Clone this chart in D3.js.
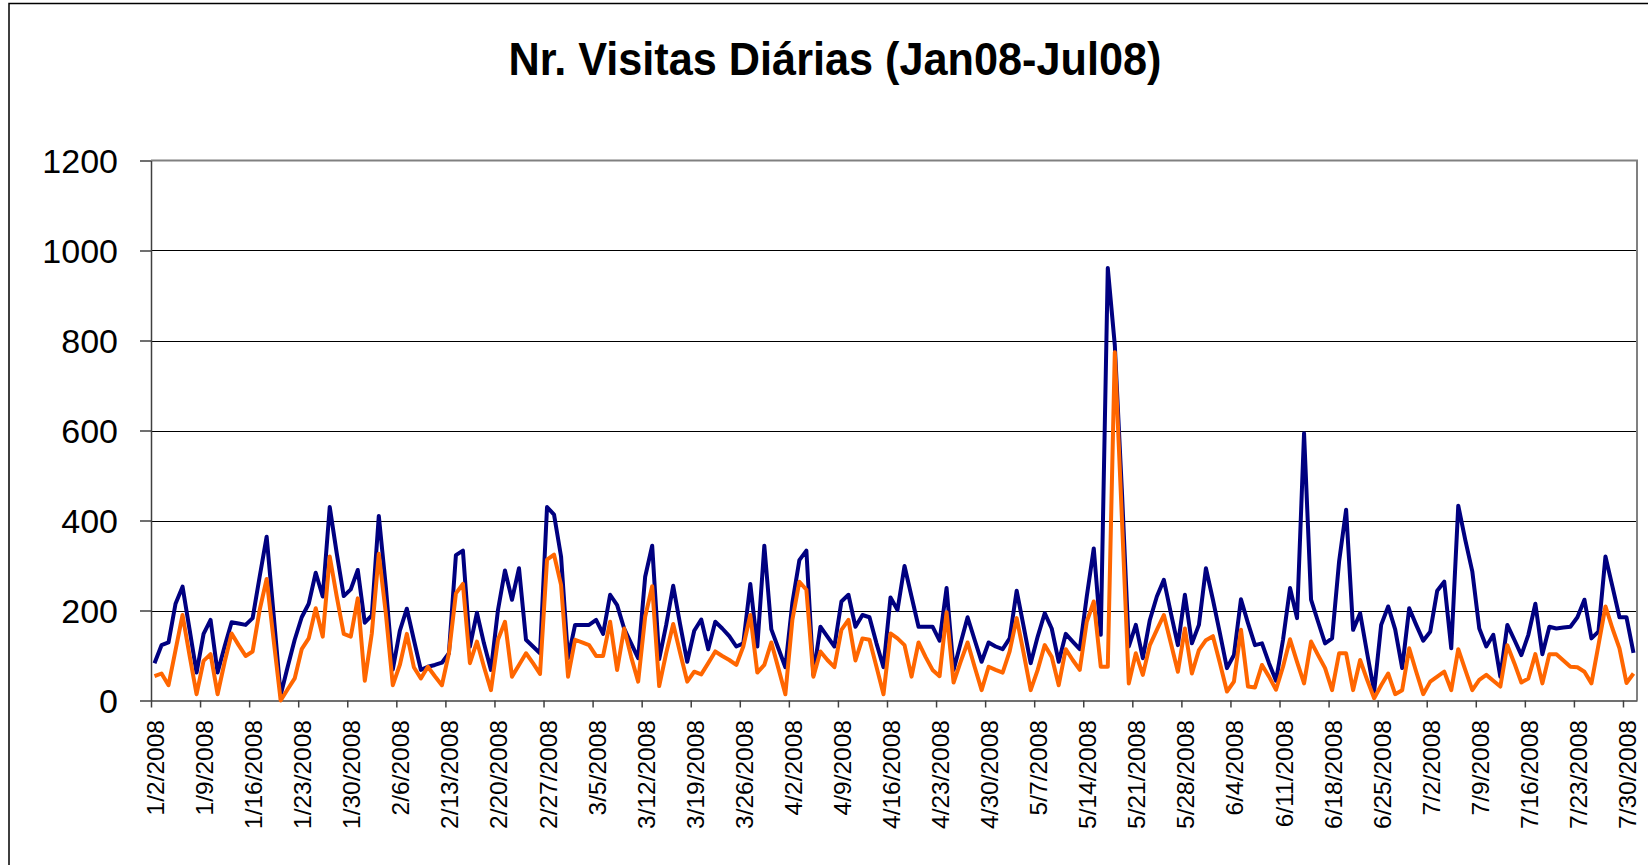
<!DOCTYPE html>
<meta charset="utf-8">
<style>
body { margin: 0; background: #fff; }
svg { display: block; font-family: Arial, "Liberation Sans", sans-serif; }
.grid line { stroke: #000; stroke-width: 1; shape-rendering: crispEdges; }
.axis path, .axis line { stroke: #404040; stroke-width: 1.5; }
.axis text { fill: #000; }
</style>
<svg width="1648" height="865"></svg>
<script src="https://cdn.jsdelivr.net/npm/d3@7"></script>
<script>

// daily visits, Jan 2 2008 .. Jul 31 2008 (one value per day)
var startDay = new Date(2008, 0, 2);
var endDay = new Date(2008, 7, 1);

var visitsTotal = [83,123,129,215,253,158,62,148,179,62,120,174,171,168,183,275,364,190,12,75,
  135,185,215,284,231,430,327,232,247,290,173,189,410,253,69,155,204,135,68,75,
  79,84,105,323,333,120,195,127,68,201,289,224,294,135,120,105,430,413,320,94,
  168,168,168,179,148,235,212,160,127,94,275,344,92,168,255,168,86,155,180,114,
  175,160,143,120,127,259,120,344,158,116,74,217,312,333,57,164,142,120,220,235,
  164,190,185,127,74,229,201,299,231,164,164,164,133,250,68,127,185,135,86,129,
  120,114,138,244,164,83,142,194,160,86,148,131,114,231,338,146,961,790,470,120,
  168,94,179,231,268,194,123,235,127,168,294,224,149,72,101,225,172,123,127,83,
  44,135,250,183,594,224,175,127,138,309,424,157,194,105,20,168,209,158,72,205,
  168,133,153,244,264,116,433,357,287,160,120,146,53,168,135,101,146,215,103,164,
  160,162,164,185,224,138,153,320,253,185,185,106];

var visitsOther = [54,60,34,112,190,100,14,88,103,14,85,149,123,99,109,201,270,134,0,25,
  49,114,138,205,142,320,231,148,142,227,44,149,326,194,34,79,148,74,49,75,
  54,34,105,238,259,83,131,75,23,135,175,53,79,105,83,59,313,324,257,53,
  135,129,123,99,99,175,68,160,97,42,186,254,32,105,170,105,42,64,58,83,
  109,99,90,79,120,190,62,79,129,72,14,179,264,246,53,109,90,74,157,179,
  89,138,135,75,14,149,138,123,53,129,97,68,54,196,40,86,129,75,23,75,
  68,62,109,183,105,23,68,123,97,34,114,90,68,175,220,75,75,774,410,38,
  105,57,123,157,190,127,64,160,60,112,134,143,83,20,42,157,31,29,79,53,
  24,75,136,86,38,131,101,72,23,105,105,23,90,46,5,34,60,14,23,116,
  64,14,42,53,64,23,114,68,23,46,57,44,31,123,83,40,49,103,38,103,
  103,89,75,74,64,38,123,209,160,116,39,60];

var yTicks = [0, 200, 400, 600, 800, 1000, 1200];
var titleText = "Nr. Visitas Diárias (Jan08-Jul08)";

var days = d3.timeDay.range(startDay, endDay);
var fmt = d3.timeFormat("%-m/%-d/%Y");

var svg = d3.select("svg");

// outer chart frame
svg.append("rect")
    .attr("x", 9).attr("y", 3.5)
    .attr("width", 1700).attr("height", 900)
    .attr("fill", "none")
    .attr("stroke", "#000")
    .attr("stroke-width", 1.5);

var plotLeft = 151, plotRight = 1637, plotTop = 160.5, plotBottom = 700.5;

var x = d3.scaleLinear().domain([0, days.length]).range([plotLeft, plotRight]);
var y = d3.scaleLinear().domain([0, 1200]).range([plotBottom, plotTop]);

// title
svg.append("text")
    .attr("x", 835).attr("y", 75)
    .attr("text-anchor", "middle")
    .attr("font-size", "47px")
    .attr("font-weight", "bold")
    .attr("textLength", 653)
    .attr("lengthAdjust", "spacingAndGlyphs")
    .text(titleText);

// horizontal gridlines
svg.append("g")
    .attr("class", "grid")
  .selectAll("line")
  .data(yTicks.slice(1, -1))
  .enter().append("line")
    .attr("x1", plotLeft).attr("x2", plotRight)
    .attr("y1", function(d) { return Math.round(y(d)) + 0.5; })
    .attr("y2", function(d) { return Math.round(y(d)) + 0.5; });

// plot area border (top / right)
svg.append("path")
    .attr("d", "M" + plotLeft + "," + plotTop + "H" + plotRight + "V" + plotBottom)
    .attr("fill", "none")
    .attr("stroke", "#808080")
    .attr("stroke-width", 2);

// y axis
var yAxis = svg.append("g")
    .attr("class", "axis")
    .attr("transform", "translate(" + plotLeft + ",0)")
    .call(d3.axisLeft(y).tickValues(yTicks).tickFormat(d3.format("d"))
      .tickSize(11).tickPadding(22).tickSizeOuter(0));
yAxis.selectAll("text")
    .attr("font-size", "34px")
    .attr("font-family", "Arial, 'Liberation Sans', sans-serif")
    .attr("dy", "0.36em");

// x axis, a tick every 7 days
var xAxis = svg.append("g")
    .attr("class", "axis")
    .attr("transform", "translate(0," + plotBottom + ")")
    .call(d3.axisBottom(x)
      .tickValues(d3.range(0, days.length, 7))
      .tickSize(7)
      .tickSizeOuter(0)
      .tickFormat(function(i) { return fmt(days[i]); }));
xAxis.selectAll("text")
    .attr("font-size", "24.5px")
    .attr("font-family", "Arial, 'Liberation Sans', sans-serif")
    .attr("transform", "rotate(-90)")
    .attr("text-anchor", "end")
    .attr("x", -19.5)
    .attr("y", 12.5)
    .attr("dy", "0");

// lines
var line = d3.line()
    .x(function(d, i) { return x(i + 0.5); })
    .y(function(d) { return y(d); });

svg.append("path")
    .datum(visitsTotal)
    .attr("fill", "none")
    .attr("stroke", "#000080")
    .attr("stroke-width", 4)
    .attr("stroke-linejoin", "round")
    .attr("d", line);

svg.append("path")
    .datum(visitsOther)
    .attr("fill", "none")
    .attr("stroke", "#FF6600")
    .attr("stroke-width", 4)
    .attr("stroke-linejoin", "round")
    .attr("d", line);

</script>
